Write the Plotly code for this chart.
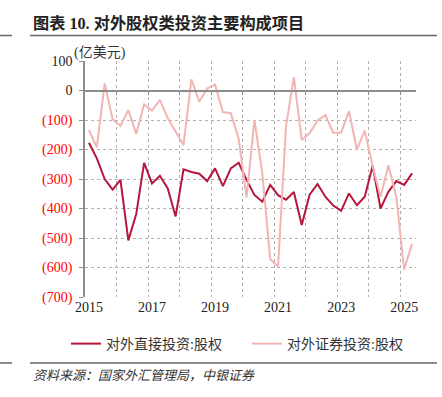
import plotly.graph_objects as go

quarters = list(range(42))  # 2015Q1 .. 2025Q2
year_tick_pos = [0, 8, 16, 24, 32, 40]
year_tick_text = ["2015", "2017", "2019", "2021", "2023", "2025"]

fdi_equity = [-177, -230, -300, -336, -303, -508, -419, -245, -315, -289,
              -332, -427, -267, -276, -282, -307, -264, -324, -264, -245,
              -303, -354, -377, -320, -355, -370, -344, -456, -353, -317,
              -360, -390, -408, -349, -389, -360, -255, -400, -343, -307,
              -320, -281]
portfolio_equity = [-134, -193, 24, -97, -120, -66, -147, -47, -68, -32,
                    -94, -140, -185, 38, -38, 7, 20, -73, -77, -164,
                    -362, -100, -281, -571, -597, -123, 45, -168, -145, -102,
                    -83, -143, -143, -70, -200, -136, -257, -360, -253, -360,
                    -607, -520]

y_vals = [100, 0, -100, -200, -300, -400, -500, -600, -700]
y_text = ["100", "0"] + [f'<span style="color:#FF0000">({-v})</span>' for v in y_vals[2:]]
year_bounds = [3.5 + 4 * k for k in range(10)]

name_fdi = "对外直接投资:股权"
name_pf = "对外证券投资:股权"

SERIF = "Liberation Serif, Noto Sans CJK SC"

fig = go.Figure()
# helper trace so the zero-line axis (x2) is drawn
fig.add_trace(go.Scatter(x=quarters, y=fdi_equity, xaxis="x2", mode="lines",
                         line=dict(color="rgba(0,0,0,0)", width=0),
                         showlegend=False, hoverinfo="skip"))
fig.add_trace(go.Scatter(x=quarters, y=fdi_equity, mode="lines", name=name_fdi,
                         line=dict(color="#B5173C", width=2)))
fig.add_trace(go.Scatter(x=quarters, y=portfolio_equity, mode="lines", name=name_pf,
                         line=dict(color="#F2B5B3", width=2)))

W, H = 442, 397
L, R, T, B = 85, 26, 61, 100
pw, ph = W - L - R, H - T - B

def px(x):
    return (x - L) / pw

def py(y):
    return (H - B - y) / ph

fig.update_layout(
    width=W, height=H,
    margin=dict(l=L, r=R, t=T, b=B, autoexpand=False),
    paper_bgcolor="white", plot_bgcolor="white",
    font=dict(family=SERIF, size=14, color="#222"),
    showlegend=True,
    legend=dict(orientation="h", x=px(66), xanchor="left", y=py(344), yanchor="middle",
                font=dict(family=SERIF, size=14, color="#333"),
                bgcolor="rgba(0,0,0,0)", itemwidth=30, traceorder="normal",
                entrywidth=136, entrywidthmode="pixels"),
    xaxis=dict(range=[-0.5, 41.5], tickmode="array", tickvals=year_tick_pos,
               ticktext=year_tick_text, showgrid=False, zeroline=False,
               showline=False, ticks="", tickfont=dict(size=14, color="#222"),
               minor=dict(tickmode="array", tickvals=year_bounds, showgrid=True,
                          griddash="dot", gridcolor="#B0B0B0", gridwidth=1, ticks="")),
    xaxis2=dict(range=[-0.5, 41.5], overlaying="x", anchor="free",
                position=py(90.5), side="bottom", showline=True, linecolor="#8C8C8C",
                linewidth=1.5, ticks="outside", ticklen=4, tickcolor="#8C8C8C",
                tickmode="array", tickvals=year_bounds, showticklabels=False,
                showgrid=False, zeroline=False),
    yaxis=dict(range=[-700, 100], tickmode="array", tickvals=y_vals, ticktext=y_text,
               showgrid=True, griddash="dot", gridcolor="#B0B0B0", gridwidth=1,
               zeroline=False, showline=True, linecolor="#8C8C8C", linewidth=1.5,
               ticks="outside", ticklen=4, tickcolor="#8C8C8C",
               tickfont=dict(size=14, color="#222"), ticklabelstandoff=4),
)

# title and decorations
fig.add_annotation(text="<b>图表 10. 对外股权类投资主要构成项目</b>", xref="paper", yref="paper",
                   x=px(31), y=py(23), xanchor="left", yanchor="middle", showarrow=False,
                   font=dict(family=SERIF, size=16.2, color="#222"))
fig.add_annotation(text="(亿美元)", xref="paper", yref="paper",
                   x=px(72), y=py(53), xanchor="left", yanchor="middle", showarrow=False,
                   font=dict(family=SERIF, size=14, color="#333"))
fig.add_annotation(text="<i>资料来源：国家外汇管理局，中银证券</i>", xref="paper", yref="paper",
                   x=px(31), y=py(375), xanchor="left", yanchor="middle", showarrow=False,
                   font=dict(family=SERIF, size=13, color="#333"))

for y in (35.5, 363):
    fig.add_shape(type="line", xref="paper", yref="paper", x0=px(30), x1=px(437),
                  y0=py(y), y1=py(y), line=dict(color="#666", width=1.5))
    fig.add_shape(type="line", xref="paper", yref="paper", x0=px(0), x1=px(12),
                  y0=py(y), y1=py(y), line=dict(color="#666", width=1.5))

fig.write_html("out.html", config={"displayModeBar": False},
               post_script="document.body.style.margin='0';")
